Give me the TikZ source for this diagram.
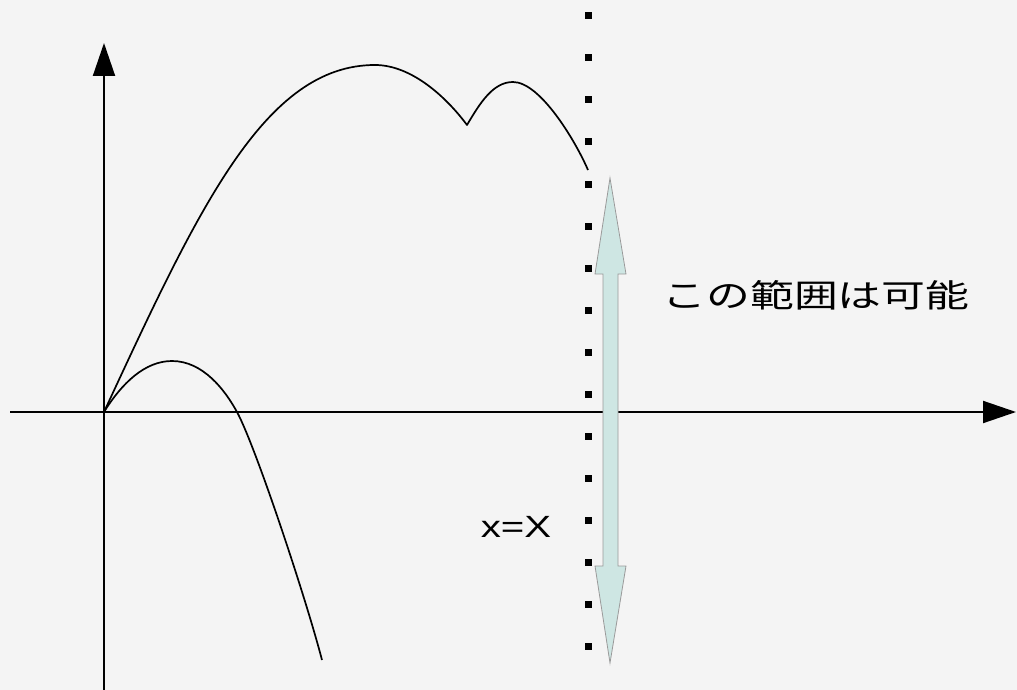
\documentclass[tikz,border=0pt]{standalone}
\usepackage{fontspec}
\setmainfont{Liberation Sans}
\newfontfamily\cjk{Noto Sans CJK JP}
\usetikzlibrary{arrows.meta}
\definecolor{bgc}{HTML}{F4F4F4}
\definecolor{arrfill}{HTML}{CEE6E3}
\definecolor{arrline}{HTML}{9A9A9A}
\tikzset{
  axis/.style={line width=2pt, -{Triangle[length=33pt,width=22pt]}},
  curve/.style={line width=1.7pt, line join=round},
  dotsq/.style={fill=black},
  dblarrow/.style={fill=arrfill, draw=arrline, line width=0.8pt, line join=miter},
  lbl/.style={inner sep=0pt, text=black}
}
\begin{document}
\begin{tikzpicture}[x=1pt,y=-1pt]
\fill[bgc] (0,0) rectangle (1017,690);
\useasboundingbox (0,0) rectangle (1017,690);
% named points
\coordinate (O) at (104,412);
\coordinate (ybot) at (104,690);
\coordinate (ytop) at (104,43);
\coordinate (xleft) at (10,412);
\coordinate (xright) at (1016,412);
% axes
\draw[axis] (ybot) -- (ytop);
\draw[axis] (xleft) -- (xright);
% big curve
\coordinate (p1) at (375,65);
\coordinate (cusp) at (467,125);
\coordinate (p2) at (513,82);
\coordinate (bend) at (588,170);
\draw[curve] (O) .. controls (199,207) and (265,65) .. (p1)
  .. controls (412,65) and (447,98) .. (cusp)
  .. controls (480,103) and (493,82) .. (p2)
  .. controls (540,82) and (575,140) .. (bend);
% small curve
\coordinate (s1) at (172,361);
\coordinate (s2) at (237,412);
\coordinate (send) at (322,660);
\draw[curve] (O) .. controls (122,383) and (145,361) .. (s1)
  .. controls (203,361) and (225,390) .. (s2)
  .. controls (255,445) and (305,595) .. (send);
% dotted vertical line
\foreach \k in {0,...,15}
  \fill[dotsq] (584.5,{12.5+42*\k}) rectangle ++(7,7);
% double arrow
\coordinate (atop) at (610,178);
\coordinate (abot) at (610,663);
\draw[dblarrow] (atop) -- (626,274) -- (618,274) -- (618,566) -- (626,566)
  -- (abot) -- (595,566) -- (603,566) -- (603,274) -- (595,274) -- cycle;
% labels
\node[lbl] (range) at (816,295) {\scalebox{1.37}[1]{\cjk\fontsize{32}{36}\selectfont この範囲は可能}};
\node[lbl, anchor=base] (xeq) at (516,537) {\scalebox{1.31}[1]{\fontsize{30.7}{34}\selectfont x=X}};
\end{tikzpicture}
\end{document}
